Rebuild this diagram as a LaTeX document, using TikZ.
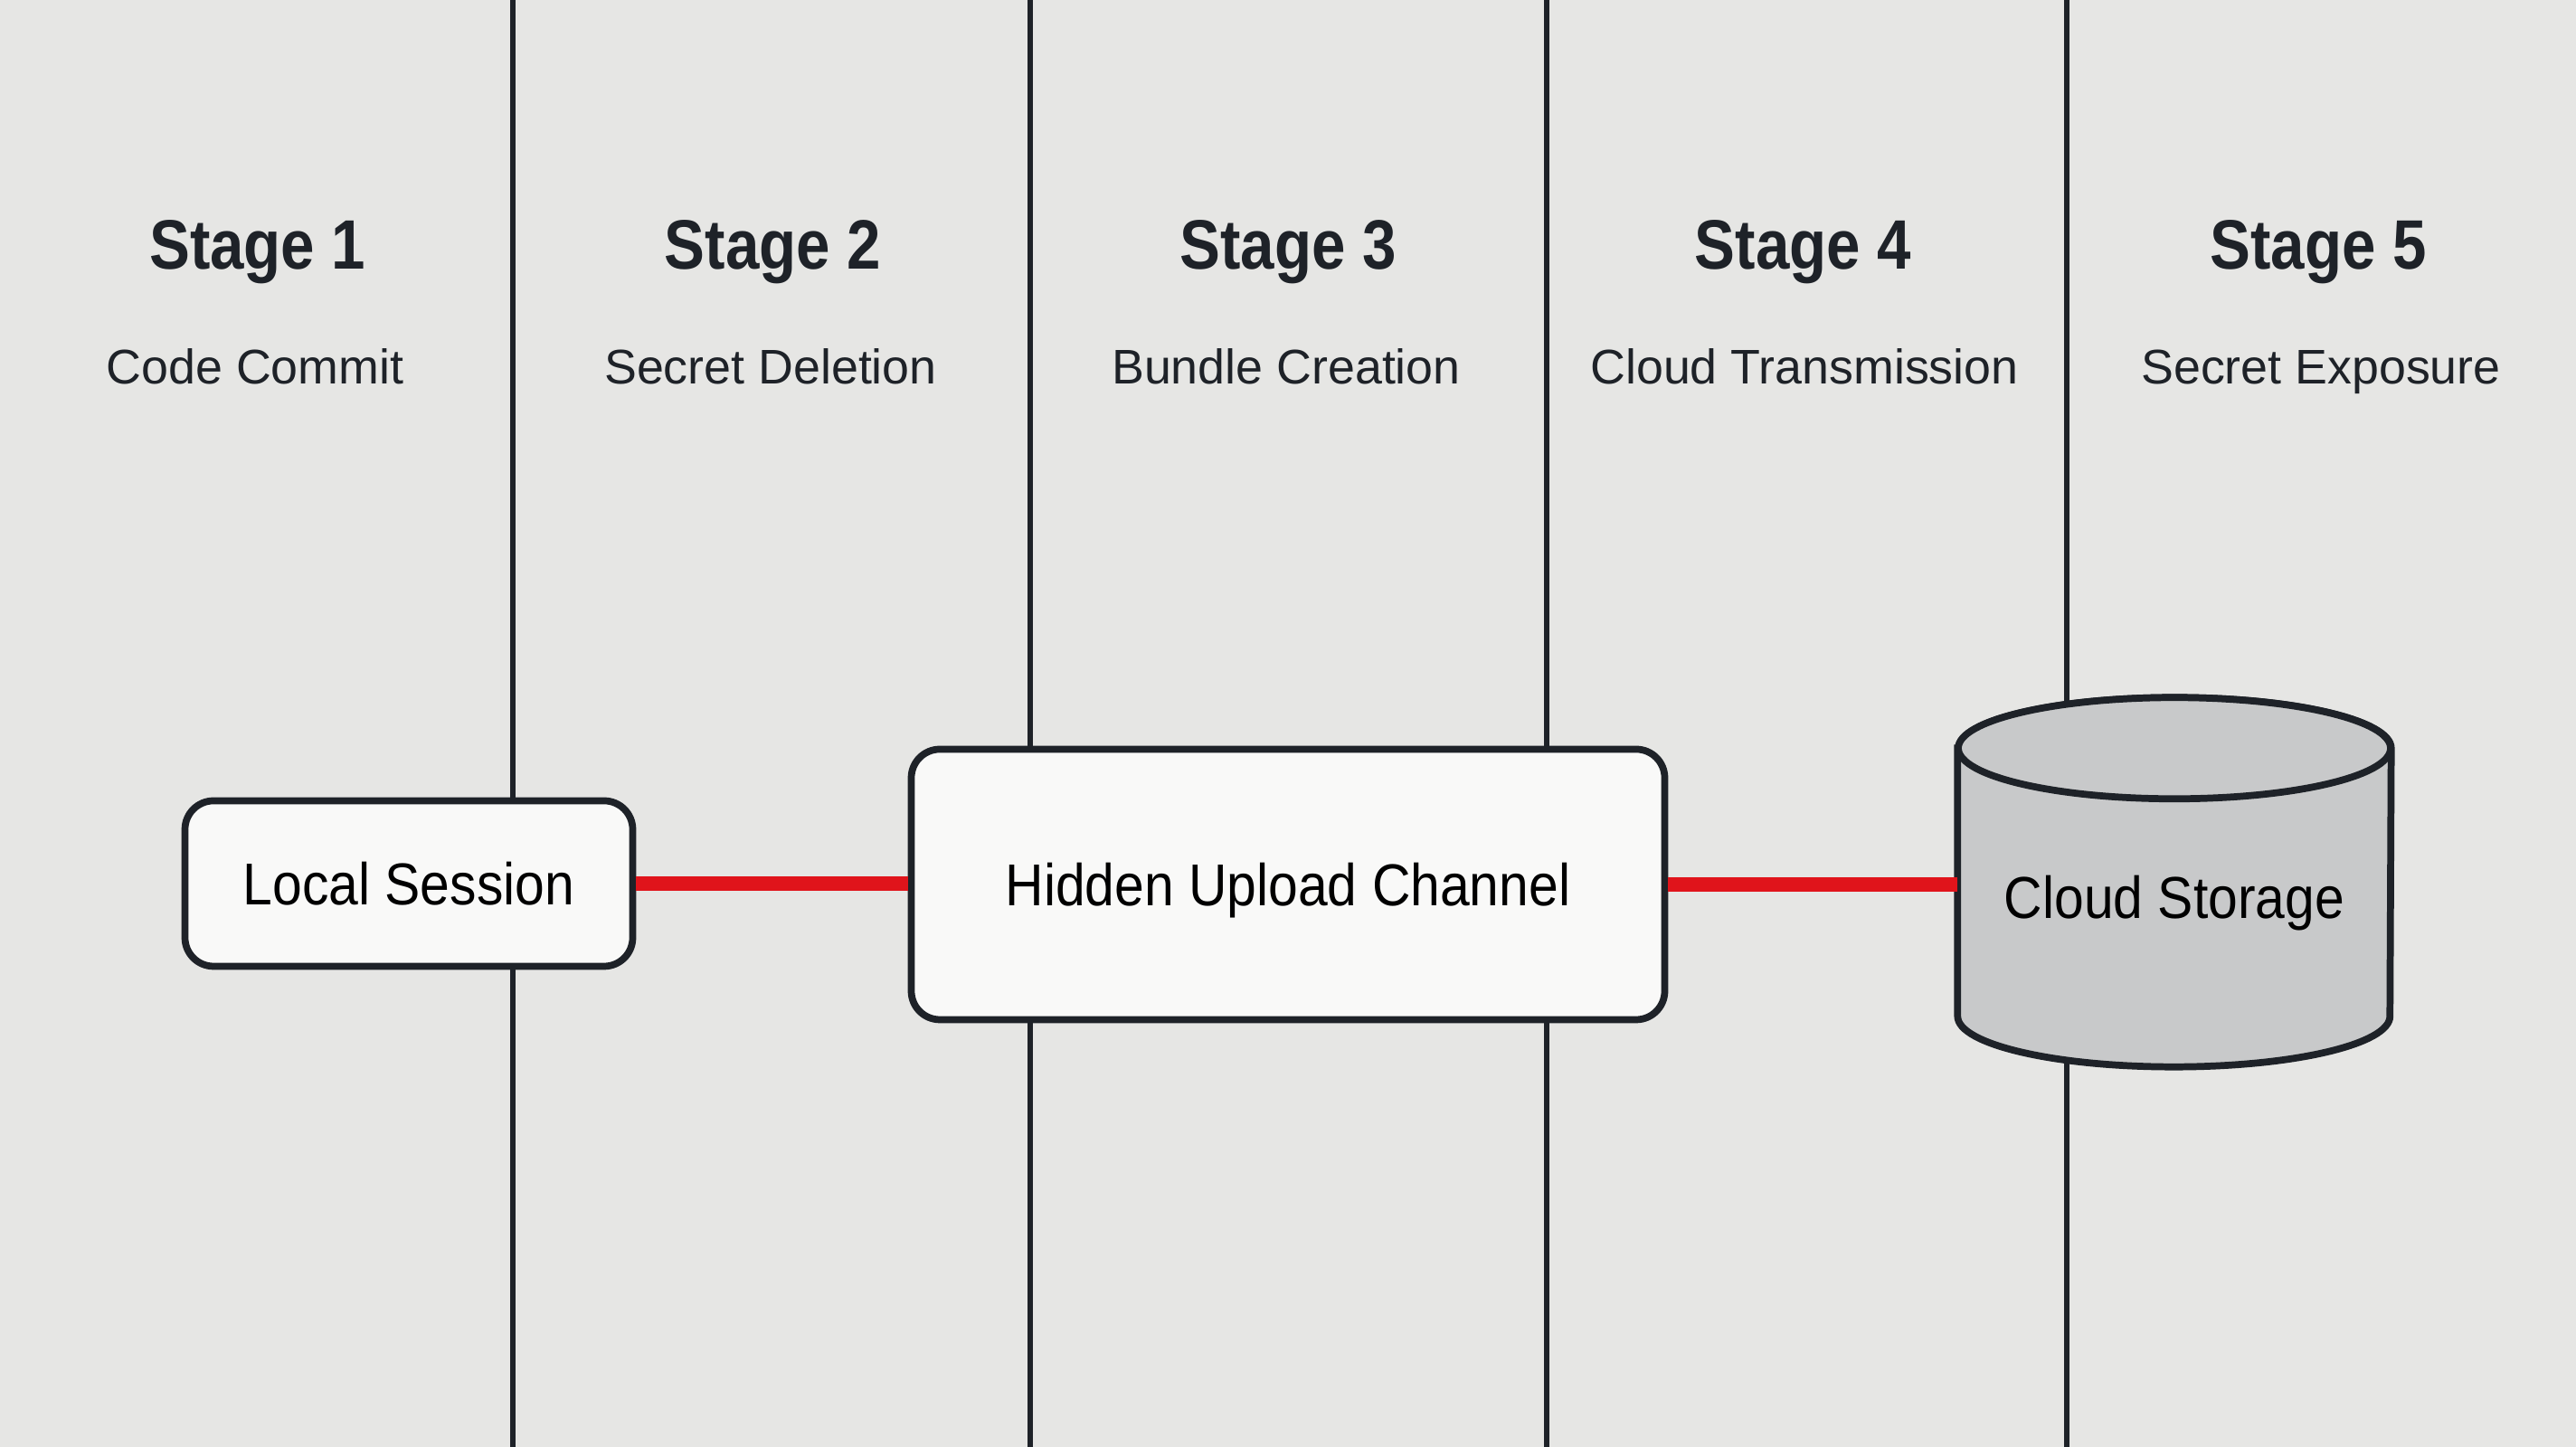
\documentclass[tikz,border=0pt]{standalone}
\usepackage{fontspec}
\setmainfont{Liberation Sans}
\newfontfamily\headfont[FakeStretch=0.87]{Liberation Sans}
\newfontfamily\boxfont[FakeStretch=0.9]{Liberation Sans}
\usetikzlibrary{calc}
\definecolor{bg}{HTML}{E6E6E4}
\definecolor{ink}{HTML}{1E2228}
\definecolor{boxfill}{HTML}{F9F9F8}
\definecolor{dbgray}{HTML}{C8C9CA}
\definecolor{leak}{HTML}{E0141B}
\tikzset{
  lane/.style={draw=ink, line width=1.6pt},
  stagebox/.style={draw=ink, line width=2.2pt, fill=boxfill, rounded corners=9pt, text depth=0pt, font=\boxfont\fontsize{18.6}{22}\selectfont, text=black},
  head/.style={anchor=base, font=\headfont\bfseries\fontsize{22}{26}\selectfont, text=ink},
  sub/.style={anchor=base, font=\fontsize{15.3}{18}\selectfont, text=ink},
  flow/.style={draw=leak, line width=4.5pt},
  cyl/.style={draw=ink, line width=2.2pt, fill=dbgray},
}
\begin{document}
\begin{tikzpicture}
				\useasboundingbox (0,0) rectangle (28.48,16);
				\fill[bg] (0,0) rectangle (28.48,16);
				% lane separators
				\draw[lane] (5.67,0) -- (5.67,16);
				\draw[lane] (11.392,0) -- (11.392,16);
				\draw[lane] (17.1,0) -- (17.1,16);
				\draw[lane] (22.85,0) -- (22.85,16);
				% stage headings
				\node[head] (S1)at(2.848, 13.027) {Stage 1};
				\node[head] (S2)at(8.544, 13.027) {Stage 2};
				\node[head] (S3)at(14.24, 13.027) {Stage 3};
				\node[head] (S4)at(19.936, 13.027) {Stage 4};
				\node[head] (S5)at(25.632, 13.027) {Stage 5};
				\node[sub] (D1)at(2.82, 11.75) {Code Commit};
				\node[sub] (D2)at(8.52, 11.75) {Secret Deletion};
				\node[sub] (D3)at(14.22, 11.75) {Bundle Creation};
				\node[sub] (D4)at(19.95, 11.75) {Cloud Transmission};
				\node[sub] (D5)at(25.66, 11.75) {Secret Exposure};
				% boxes
				\node[stagebox, minimum width=4.95cm, minimum height=1.83cm] (LS)at(4.52, 6.23) {Local Session};
				\node[stagebox, minimum width=8.33cm, minimum height=2.99cm] (HUC)at(14.24, 6.22) {Hidden Upload Channel};
				\node[inner sep=0pt, minimum width=4.78cm, minimum height=4.07cm] (CS)at(24.04, 6.245) {};
				\draw[cyl] ($(CS.north west)+(0,-0.56)$) -- ($(CS.south west)+(0,0.56)$) arc[start angle=180, end angle=360, x radius=2.39, y radius=0.56] -- ($(CS.north east)+(0,-0.56)$) arc[start angle=0, end angle=180, x radius=2.39, y radius=0.56] -- cycle;
				\draw[cyl] ($(CS.north)+(0,-0.56)$) ellipse[x radius=2.39, y radius=0.56];
				\node[anchor=base, font=\boxfont\fontsize{18.6}{22}\selectfont, text=black] (CST)at(24.04, 5.84) {Cloud Storage};
				% leak path
				\draw[flow] (LS.east) -- (LS.east -| HUC.west);
				\draw[flow] (HUC.east) -- (HUC.east -| CS.west);
			\end{tikzpicture}
\end{document}
